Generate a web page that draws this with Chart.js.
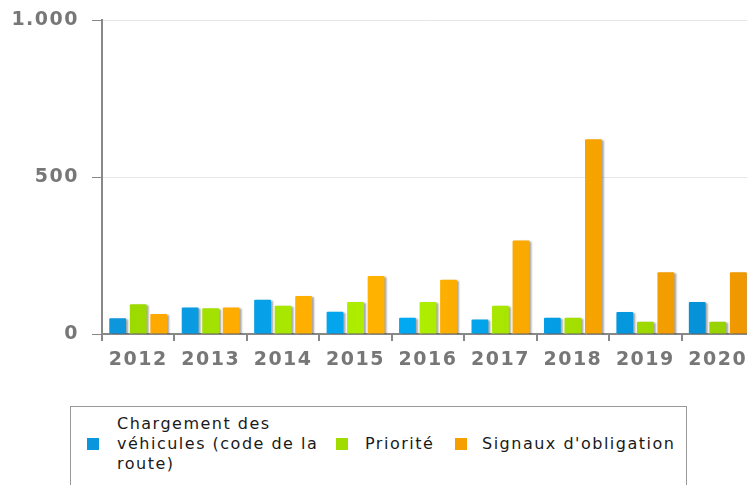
<!DOCTYPE html>
<html>
<head>
<meta charset="utf-8">
<script src="https://cdn.jsdelivr.net/npm/chart.js@4/dist/chart.umd.min.js"></script>
<style>
  html, body { margin: 0; padding: 0; background: #fff; overflow: hidden; width: 747px; height: 485px; }
  #wrap { position: absolute; left: 0; top: 0; width: 754px; height: 400px; }
  #legend {
    position: absolute; left: 70px; top: 406px; width: 617px; height: 120px;
    border: 1px solid #999; box-sizing: border-box;
    font-family: "DejaVu Sans", sans-serif; font-size: 16px; letter-spacing: 1.5px; color: #1a1a1a;
  }
  .item { position: absolute; display: flex; align-items: center; }
  .sw { width: 12px; height: 12px; flex: none; }
  .lbl { line-height: 20px; }
</style>
</head>
<body>
<div id="wrap"><canvas id="c" width="754" height="400"></canvas></div>
<div id="legend"></div>
<script>
const categories = ["2012","2013","2014","2015","2016","2017","2018","2019","2020"];
const seriesNames = ["Chargement des véhicules (code de la route)", "Priorité", "Signaux d'obligation"];
const chargement = [50, 84, 109, 71, 52, 46, 52, 70, 102];
const priorite   = [95, 82, 90, 102, 102, 90, 52, 39, 39];
const signaux    = [64, 84, 121, 185, 173, 298, 620, 197, 197];
const yTicks = [0, 500, 1000];

const swatch = ["#0a96dc", "#a0dc00", "#f5a000"];
const gradStops = [
  [[0, "#0d95da"], [0.45, "#00aaf3"], [1, "#078dd3"]],
  [[0, "#9ad800"], [0.45, "#b0f000"], [1, "#95cf00"]],
  [[0, "#ffa700"], [0.45, "#ffb300"], [1, "#ef9700"]]
];

function gradFor(i) {
  return function(ctx) {
    const ca = ctx.chart.chartArea;
    if (!ca) return swatch[i];
    const g = ctx.chart.ctx.createLinearGradient(ca.left, 0, ca.right, 0);
    gradStops[i].forEach(s => g.addColorStop(s[0], s[1]));
    return g;
  };
}

const shadowPlugin = {
  id: 'shadow',
  beforeDatasetsDraw(chart) {
    const c = chart.ctx; c.save();
    c.shadowColor = 'rgba(0,0,0,0.35)';
    c.shadowOffsetX = 2; c.shadowOffsetY = 1; c.shadowBlur = 2;
  },
  afterDatasetsDraw(chart) { chart.ctx.restore(); }
};
const spacingPlugin = {
  id: 'spacing',
  beforeDraw(chart) { chart.ctx.letterSpacing = '1.5px'; },
  afterDraw(chart) { chart.ctx.letterSpacing = '0px'; }
};

const seriesData = [chargement, priorite, signaux];
new Chart(document.getElementById('c'), {
  type: 'bar',
  data: {
    labels: categories,
    datasets: seriesData.map((d, i) => ({
      label: seriesNames[i],
      data: d,
      backgroundColor: gradFor(i),
      borderWidth: 0,
      borderRadius: 1,
      categoryPercentage: 0.85,
      barPercentage: 0.82
    }))
  },
  plugins: [shadowPlugin, spacingPlugin],
  options: {
    responsive: false,
    animation: false,
    devicePixelRatio: 1,
    layout: { padding: { top: 20, left: 0, right: 0, bottom: 0 } },
    plugins: { legend: { display: false }, tooltip: { enabled: false } },
    scales: {
      x: {
        grid: { offset: true, drawOnChartArea: false, drawTicks: true, tickLength: 7, color: '#888', lineWidth: 2 },
        border: { display: true, color: '#888', width: 2 },
        ticks: { color: '#777', font: { family: 'DejaVu Sans', size: 19, weight: 'bold' }, padding: 8, maxRotation: 0, autoSkip: false },
        afterFit(s) { s.height = 66; s.paddingLeft = 0; s.paddingRight = 0; }
      },
      y: {
        min: 0, max: 1000,
        afterBuildTicks(s) { s.ticks = yTicks.map(v => ({ value: v })); },
        grid: { color: '#e6e6e6', lineWidth: 1, tickColor: '#888', tickLength: 10, drawTicks: true },
        border: { display: true, color: '#888', width: 2 },
        ticks: {
          color: '#777', font: { family: 'DejaVu Sans', size: 19, weight: 'bold' }, padding: 13,
          callback: v => v.toLocaleString('de-DE')
        },
        afterFit(s) { s.width = 102; s.paddingTop = 0; s.paddingBottom = 0; }
      }
    }
  }
});

// HTML legend built from dataset names
const legend = document.getElementById('legend');
const pos = [
  { sw: 16, tx: 46, w: 218 },
  { sw: 265, tx: 294, w: 90 },
  { sw: 384, tx: 411, w: 215 }
];
seriesNames.forEach((name, i) => {
  const it = document.createElement('div');
  it.className = 'item';
  it.style.left = pos[i].sw + 'px';
  it.style.top = '0px';
  it.style.height = '74px';
  const sq = document.createElement('div');
  sq.className = 'sw';
  sq.style.background = swatch[i];
  const tx = document.createElement('div');
  tx.className = 'lbl';
  tx.style.marginLeft = (pos[i].tx - pos[i].sw - 12) + 'px';
  tx.style.width = pos[i].w + 'px';
  tx.textContent = name;
  it.appendChild(sq); it.appendChild(tx);
  legend.appendChild(it);
});
</script>
</body>
</html>
